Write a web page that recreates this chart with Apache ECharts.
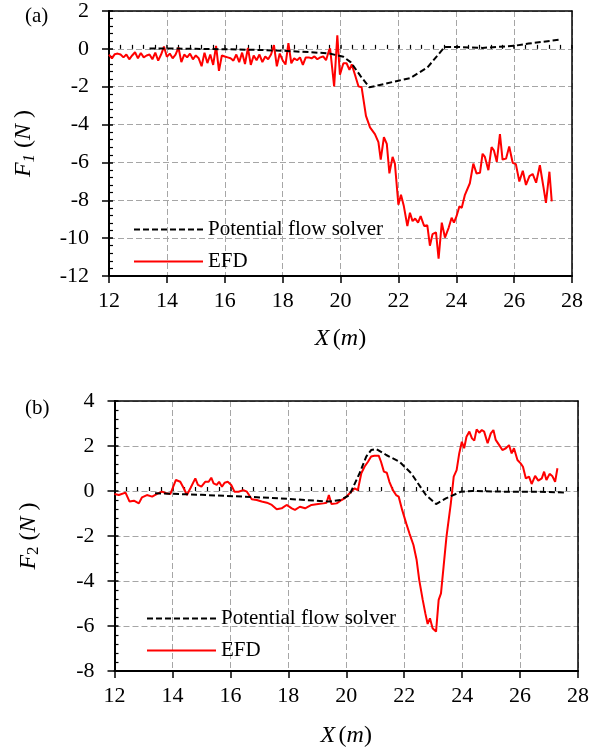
<!DOCTYPE html>
<html>
<head>
<meta charset="utf-8">
<script src="https://cdn.jsdelivr.net/npm/echarts@6/dist/echarts.min.js"></script>
<style>
html,body{margin:0;padding:0;background:#fff;}
#chart{width:592px;height:753px;}
</style>
</head>
<body>
<div id="chart"></div>
<script>
// ---- Panel (a): F1 ----
var x1Pot = [13.4, 14, 15, 16, 17, 18, 19, 19.6, 20.1, 20.35, 20.7, 21.0, 21.5, 22.0, 22.4, 23.0, 23.6, 24.0, 24.9, 26.0, 26.5, 27.6];
var y1Pot = [0.02, 0.02, 0.0, -0.02, -0.05, -0.1, -0.18, -0.24, -0.42, -0.7, -1.45, -2.03, -1.86, -1.68, -1.55, -0.99, 0.1, 0.1, 0.05, 0.16, 0.28, 0.49];

var x1Efd = [12.0,12.1,12.2,12.3,12.4,12.5,12.6,12.7,12.8,12.9,
  13.0,13.1,13.2,13.3,13.4,13.5,13.6,13.7,13.8,13.9,
  14.0,14.1,14.2,14.3,14.4,14.5,14.6,14.7,14.8,14.9,
  15.0,15.1,15.2,15.3,15.4,15.5,15.6,15.7,15.8,15.9,
  16.0,16.1,16.2,16.3,16.4,16.5,16.6,16.7,16.8,16.9,
  17.0,17.1,17.2,17.3,17.4,17.5,17.6,17.7,17.8,17.9,
  18.0,18.1,18.2,18.3,18.4,18.5,18.6,18.7,18.8,18.9,
  19.0,19.1,19.2,19.3,19.4,19.5,19.6,
  19.64,19.69,19.78,19.89,19.98,20.1,20.21,20.31,20.39,20.5,
  20.62,20.73,20.88,21.02,21.19,21.31,21.39,21.5,21.6,21.69,
  21.8,21.88,22.0,22.09,22.19,22.31,22.4,22.49,22.58,22.68,
  22.77,22.89,23.0,23.09,23.18,23.3,23.39,23.5,23.61,23.74,
  23.84,23.92,24.01,24.11,24.19,24.3,24.47,24.59,24.7,24.82,
  24.91,24.99,25.11,25.22,25.3,25.4,25.51,25.6,25.72,25.83,
  25.95,26.06,26.18,26.3,26.41,26.53,26.64,26.76,26.89,27.01,
  27.1,27.22,27.3];
var y1Efd = [-0.31,-0.5,-0.28,-0.25,-0.3,-0.45,-0.3,-0.55,-0.35,-0.18,
  -0.5,-0.22,-0.45,-0.35,-0.3,-0.55,-0.2,-0.62,-0.3,0.12,
  -0.42,-0.25,-0.5,-0.3,0.07,-0.7,-0.3,-0.45,-0.25,-0.55,
  -0.35,-0.5,-0.92,-0.2,-0.75,-0.3,-0.85,0.16,-1.16,-0.35,
  -0.4,-0.45,-0.5,-0.62,-0.3,-0.7,-0.2,-0.8,0.05,-0.85,
  -0.35,-0.6,-0.3,-0.7,-0.4,-0.55,-0.3,0.2,-0.92,-0.25,
  -0.6,-0.83,0.3,-0.76,-0.5,-0.6,-0.45,-0.85,-0.45,-0.45,
  -0.5,-0.4,-0.55,-0.45,-0.4,-0.6,-0.1,
  0.02,0.1,-1.98,0.71,-1.37,-0.76,-0.76,-1.11,-0.82,-1.37,
  -1.98,-2.03,-3.54,-4.15,-4.5,-4.93,-5.85,-4.67,-5.02,-6.58,
  -5.71,-6.06,-8.23,-7.71,-8.32,-9.36,-8.66,-9.1,-8.96,-9.18,
  -8.84,-9.36,-9.32,-10.4,-9.79,-9.7,-11.09,-9.18,-9.97,-9.44,
  -8.92,-9.18,-8.84,-8.32,-8.4,-7.71,-7.1,-6.06,-6.58,-6.55,
  -5.54,-5.71,-6.41,-5.19,-5.36,-5.97,-4.5,-5.85,-5.8,-5.16,
  -6.02,-6.09,-7.01,-6.44,-7.19,-6.72,-6.61,-7.07,-6.15,-7.27,
  -8.14,-6.49,-8.06];

// ---- Panel (b): F2 ----
var x2Pot = [13.4, 15.0, 16.5, 18.0, 19.4, 19.8, 20.11, 20.46, 20.69, 20.86, 21.03, 21.38, 21.84, 22.24, 22.75, 23.1, 23.44, 23.96, 24.36, 25.51, 26.65, 27.57];
var y2Pot = [-0.1, -0.17, -0.25, -0.35, -0.47, -0.4, -0.18, 0.79, 1.53, 1.82, 1.87, 1.6, 1.3, 0.79, -0.18, -0.58, -0.33, -0.03, 0.0, -0.03, -0.03, -0.07];

var x2Efd = [12.0,12.15,12.38,12.52,12.67,12.84,12.95,13.12,13.3,13.47,
  13.64,13.78,13.93,14.12,14.27,14.39,14.5,14.62,14.79,14.88,
  15.0,15.13,15.25,15.34,15.42,15.53,15.61,15.71,15.8,15.91,
  16.03,16.14,16.28,16.45,16.57,16.74,16.91,17.08,17.26,17.43,
  17.6,17.77,17.94,18.12,18.23,18.4,18.58,18.8,19.03,19.21,
  19.32,19.4,19.49,19.67,19.84,19.94,20.17,20.29,20.4,20.52,
  20.63,20.75,20.86,20.97,21.12,21.2,21.3,21.4,21.49,21.61,
  21.72,21.81,21.93,22.07,22.18,22.32,22.43,22.52,22.64,22.73,
  22.81,22.89,22.98,23.1,23.19,23.27,23.36,23.46,23.61,23.71,
  23.81,23.9,23.99,24.07,24.15,24.25,24.34,24.42,24.5,24.59,
  24.68,24.76,24.88,24.99,25.08,25.16,25.28,25.39,25.51,25.62,
  25.71,25.79,25.91,26.02,26.1,26.2,26.31,26.4,26.52,26.63,
  26.75,26.83,26.91,27.02,27.11,27.21,27.29];
var y2Efd = [-0.13,-0.18,-0.07,-0.47,-0.43,-0.55,-0.28,-0.18,-0.25,-0.13,
  -0.03,-0.1,-0.13,0.49,0.41,0.12,-0.18,0.12,0.56,0.27,
  0.19,0.41,0.41,0.59,0.34,0.27,0.41,0.19,0.37,0.41,
  0.27,-0.03,-0.03,0.04,-0.03,-0.37,-0.4,-0.47,-0.52,-0.62,
  -0.81,-0.77,-0.62,-0.77,-0.84,-0.7,-0.77,-0.62,-0.58,-0.55,
  -0.52,-0.18,-0.58,-0.55,-0.4,-0.33,-0.03,0.12,0.04,0.79,
  1.08,1.3,1.53,1.57,1.57,1.3,0.86,0.81,0.41,0.04,
  -0.18,-0.25,-0.84,-1.44,-1.88,-2.4,-3.07,-3.96,-4.84,-5.44,
  -5.91,-5.66,-6.1,-6.25,-4.84,-4.55,-3.36,-2.03,-0.55,0.64,
  0.93,1.67,2.19,1.9,2.41,2.64,2.34,2.24,2.74,2.59,
  2.71,2.64,2.12,2.56,2.71,2.27,2.04,1.82,1.9,2.04,
  1.67,1.9,1.38,1.23,1.08,0.56,0.64,0.31,0.67,0.46,
  0.56,0.86,0.49,0.76,0.67,0.41,1.01];

var seriesNames = ['Potential flow solver', 'EFD'];
var panelLabels = ['(a)', '(b)'];

function zip(xs, ys) { return xs.map(function (x, i) { return [x, ys[i]]; }); }

var FONT = 'Liberation Serif';
var GRID_DASH = [6, 3];
var gridLineColor = '#a6a6a6';

function mainX(gi, nameGap) {
  return {
    type: 'value', gridIndex: gi, min: 12, max: 28, interval: 2, position: 'bottom',
    axisLine: { show: true, onZero: false, lineStyle: { color: '#000', width: 2 } },
    axisTick: { show: true, inside: false, length: 7, lineStyle: { color: '#000', width: 1.5 } },
    axisLabel: { show: true, margin: 14, color: '#000', fontSize: 22, fontFamily: FONT },
    splitLine: { show: true, lineStyle: { color: gridLineColor, width: 1, type: GRID_DASH } },
    name: '{i|X} {n|(}{i|m}{n|)}', nameLocation: 'middle', nameGap: nameGap,
    nameTextStyle: { rich: {
      i: { fontFamily: FONT, fontStyle: 'italic', fontSize: 24, color: '#000' },
      n: { fontFamily: FONT, fontSize: 24, color: '#000' } } }
  };
}
function overX(gi) {
  return {
    type: 'value', gridIndex: gi, min: 12, max: 28, interval: 2, position: 'bottom',
    axisLine: { show: false }, axisLabel: { show: false }, splitLine: { show: false },
    axisTick: { show: true, inside: true, length: 4, lineStyle: { color: '#000', width: 1.5 } },
    minorTick: { show: true, splitNumber: 5, length: 4, lineStyle: { color: '#000', width: 1.2 } },
    minorSplitLine: { show: false }
  };
}
function frameX(gi) {
  return {
    type: 'value', gridIndex: gi, min: 12, max: 28, interval: 2, position: 'top',
    axisLine: { show: true, onZero: false, lineStyle: { color: '#000', width: 1.5 } },
    axisTick: { show: false }, axisLabel: { show: false }, splitLine: { show: false }
  };
}
function mainY(gi, min, max, sub, subItalic, nameGap) {
  return {
    type: 'value', gridIndex: gi, min: min, max: max, interval: 2, position: 'left',
    axisLine: { show: true, onZero: false, lineStyle: { color: '#000', width: 2 } },
    axisTick: { show: true, inside: false, length: 7, lineStyle: { color: '#000', width: 1.5 } },
    axisLabel: { show: true, margin: 20, color: '#000', fontSize: 22, fontFamily: FONT },
    splitLine: { show: true, lineStyle: { color: gridLineColor, width: 1, type: GRID_DASH } },
    name: '{i|F}{' + (subItalic ? 'si' : 's') + '|' + sub + '}{n| (}{i|N}{n| )}',
    nameLocation: 'middle', nameGap: nameGap, nameRotate: 90,
    nameTextStyle: { rich: {
      i: { fontFamily: FONT, fontStyle: 'italic', fontSize: 24, color: '#000', lineHeight: 28, verticalAlign: 'middle' },
      n: { fontFamily: FONT, fontSize: 24, color: '#000', lineHeight: 28, verticalAlign: 'middle' },
      s: { fontFamily: FONT, fontSize: 17, color: '#000', lineHeight: 16, verticalAlign: 'bottom' },
      si: { fontFamily: FONT, fontStyle: 'italic', fontSize: 17, color: '#000', lineHeight: 16, verticalAlign: 'bottom' } } }
  };
}
function overY(gi, min, max) {
  return {
    type: 'value', gridIndex: gi, min: min, max: max, interval: 2, position: 'left',
    axisLine: { show: false }, axisLabel: { show: false }, splitLine: { show: false },
    axisTick: { show: true, inside: true, length: 4, lineStyle: { color: '#000', width: 1.5 } },
    minorTick: { show: true, splitNumber: 5, length: 4, lineStyle: { color: '#000', width: 1.2 } },
    minorSplitLine: { show: false }
  };
}
function frameY(gi, min, max) {
  return {
    type: 'value', gridIndex: gi, min: min, max: max, interval: 2, position: 'right',
    axisLine: { show: true, onZero: false, lineStyle: { color: '#000', width: 1.5 } },
    axisTick: { show: false }, axisLabel: { show: false }, splitLine: { show: false }
  };
}

var potStyle = { color: '#000', width: 2, type: [6, 3] };
var efdStyle = { color: '#ff0000', width: 2, type: 'solid' };

function legendAt(left, top) {
  return {
    orient: 'vertical', left: left, top: top, data: seriesNames, padding: 0,
    itemWidth: 69, itemHeight: 20, itemGap: 11, selectedMode: false,
    itemStyle: { opacity: 0 },
    textStyle: { fontFamily: FONT, fontSize: 21, color: '#000' }
  };
}

var chart = echarts.init(document.getElementById('chart'), null, { renderer: 'canvas' });
chart.setOption({
  backgroundColor: '#fff',
  animation: false,
  title: [
    { text: panelLabels[0], left: 20, top: 1, textStyle: { fontFamily: FONT, fontSize: 21, fontWeight: 'normal', color: '#000' } },
    { text: panelLabels[1], left: 20, top: 393, textStyle: { fontFamily: FONT, fontSize: 21, fontWeight: 'normal', color: '#000' } }
  ],
  grid: [
    { left: 109, top: 7, width: 463, height: 269, show: false },
    { left: 114.5, top: 401, width: 464.5, height: 270, show: false }
  ],
  xAxis: [mainX(0, 51), overX(0), frameX(0), mainX(1, 53), overX(1), frameX(1)],
  yAxis: [mainY(0, -12, 2, '1', true, 71), overY(0, -12, 2), frameY(0, -12, 2), mainY(1, -8, 4, '2', false, 72), overY(1, -8, 4), frameY(1, -8, 4)],
  legend: [legendAt(133, 219), legendAt(146, 608)],
  series: [
    { name: seriesNames[0], type: 'line', xAxisIndex: 0, yAxisIndex: 0, data: zip(x1Pot, y1Pot), symbol: 'none', showSymbol: false, lineStyle: potStyle, itemStyle: { color: '#000' }, z: 3 },
    { name: seriesNames[1], type: 'line', xAxisIndex: 0, yAxisIndex: 0, data: zip(x1Efd, y1Efd), symbol: 'none', showSymbol: false, lineStyle: efdStyle, itemStyle: { color: '#ff0000' }, z: 2 },
    { name: seriesNames[0], type: 'line', xAxisIndex: 3, yAxisIndex: 3, data: zip(x2Pot, y2Pot), symbol: 'none', showSymbol: false, lineStyle: potStyle, itemStyle: { color: '#000' }, z: 3 },
    { name: seriesNames[1], type: 'line', xAxisIndex: 3, yAxisIndex: 3, data: zip(x2Efd, y2Efd), symbol: 'none', showSymbol: false, lineStyle: efdStyle, itemStyle: { color: '#ff0000' }, z: 2 }
  ]
});
</script>
</body>
</html>
